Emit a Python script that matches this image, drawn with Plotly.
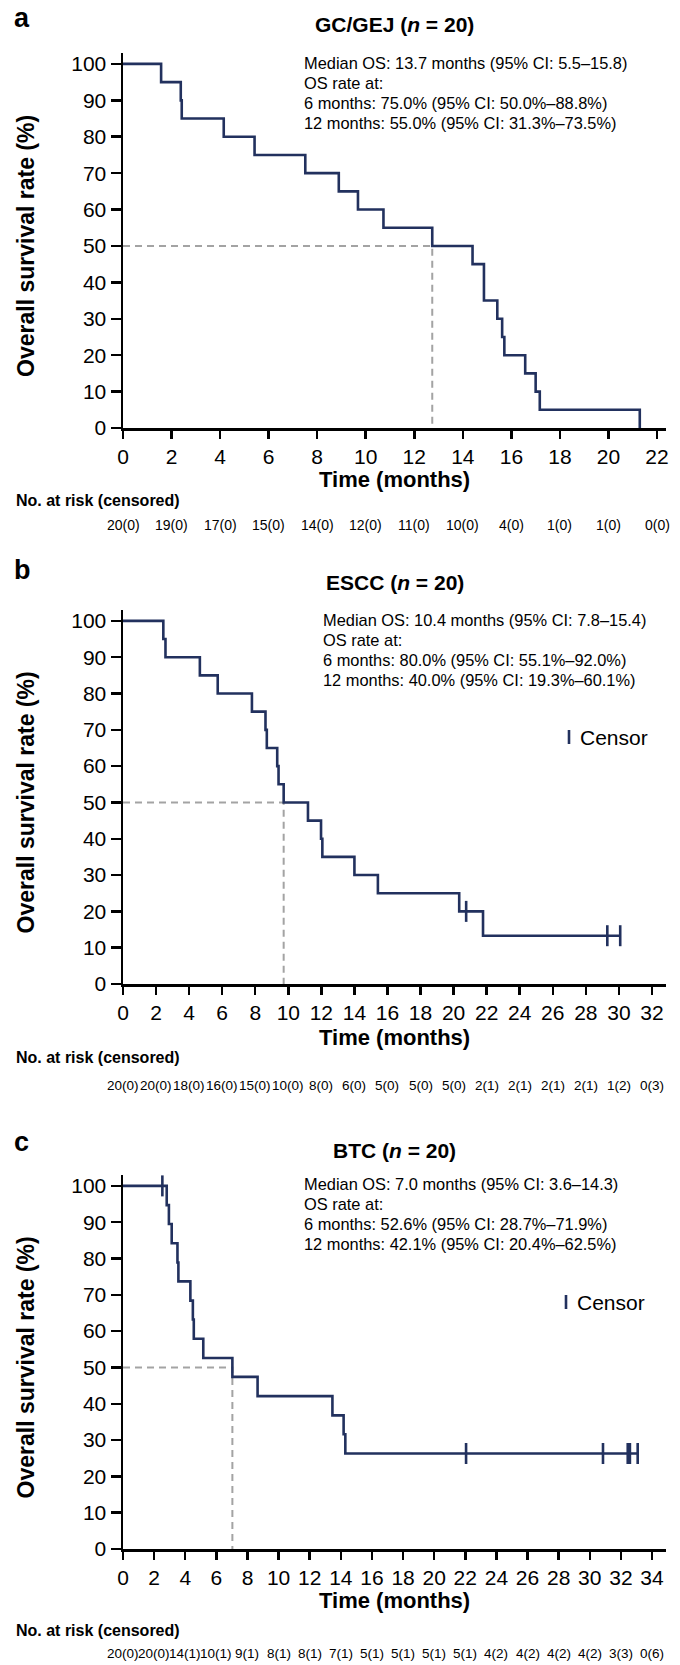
import plotly.graph_objects as go

# ---------------- data ----------------
# GC/GEJ
gc_time = [0, 1.57, 2.38, 2.42, 4.15, 5.42, 7.51, 8.89, 9.68, 10.73, 12.74, 14.40, 14.87, 15.42, 15.62, 15.71, 16.57, 17.00, 17.17, 21.29]
gc_surv = [100, 95, 90, 85, 80, 75, 70, 65, 60, 55, 50, 45, 35, 30, 25, 20, 15, 10, 5, 0]
gc_cens_time = []
gc_cens_surv = []
gc_median = 12.74
gc_ticks = [0, 2, 4, 6, 8, 10, 12, 14, 16, 18, 20, 22]
gc_at_risk = [20, 19, 17, 15, 14, 12, 11, 10, 4, 1, 1, 0]
gc_censored = [0, 0, 0, 0, 0, 0, 0, 0, 0, 0, 0, 0]
gc_title = "GC/GEJ (<i>n</i> = 20)"
gc_text = ["Median OS: 13.7 months (95% CI: 5.5–15.8)", "OS rate at:",
           "6 months: 75.0% (95% CI: 50.0%–88.8%)", "12 months: 55.0% (95% CI: 31.3%–73.5%)"]

# ESCC
escc_time = [0, 2.44, 2.57, 4.65, 5.73, 7.80, 8.62, 8.70, 9.33, 9.41, 9.72, 11.19, 11.98, 12.06, 14.00, 15.42, 20.34, 21.78, 30.08]
escc_surv = [100, 95, 90, 85, 80, 75, 70, 65, 60, 55, 50, 45, 40, 35, 30, 25, 20, 13.3, 13.3]
escc_cens_time = [20.76, 29.30, 30.08]
escc_cens_surv = [20, 13.3, 13.3]
escc_median = 9.72
escc_ticks = list(range(0, 33, 2))
escc_at_risk = [20, 20, 18, 16, 15, 10, 8, 6, 5, 5, 5, 2, 2, 2, 2, 1, 0]
escc_censored = [0, 0, 0, 0, 0, 0, 0, 0, 0, 0, 0, 1, 1, 1, 1, 2, 3]
escc_title = "ESCC (<i>n</i> = 20)"
escc_text = ["Median OS: 10.4 months (95% CI: 7.8–15.4)", "OS rate at:",
             "6 months: 80.0% (95% CI: 55.1%–92.0%)", "12 months: 40.0% (95% CI: 19.3%–60.1%)"]

# BTC
btc_time = [0, 2.81, 2.95, 3.13, 3.50, 3.56, 4.33, 4.49, 4.55, 5.16, 7.03, 8.65, 13.46, 14.18, 14.29, 33.08]
btc_surv = [100, 94.7, 89.5, 84.2, 78.9, 73.7, 68.4, 63.2, 57.9, 52.6, 47.4, 42.1, 36.8, 31.6, 26.3, 26.3]
btc_cens_time = [2.53, 22.05, 30.85, 32.44, 32.58, 33.08]
btc_cens_surv = [100, 26.3, 26.3, 26.3, 26.3, 26.3]
btc_median = 7.03
btc_ticks = list(range(0, 35, 2))
btc_at_risk = [20, 20, 14, 10, 9, 8, 8, 7, 5, 5, 5, 5, 4, 4, 4, 4, 3, 0]
btc_censored = [0, 0, 1, 1, 1, 1, 1, 1, 1, 1, 1, 1, 2, 2, 2, 2, 3, 6]
btc_title = "BTC (<i>n</i> = 20)"
btc_text = ["Median OS: 7.0 months (95% CI: 3.6–14.3)", "OS rate at:",
            "6 months: 52.6% (95% CI: 28.7%–71.9%)", "12 months: 42.1% (95% CI: 20.4%–62.5%)"]

y_ticks = [0, 10, 20, 30, 40, 50, 60, 70, 80, 90, 100]

# ---------------- layout helpers ----------------
W, H = 680, 1665
FONT = "Liberation Sans, Arial, Helvetica, sans-serif"
NAVY = "#22315e"
GREY = "#a3a3a3"


def px(p):
    return p / W


def py(p):
    return 1 - p / H


panels = [
    dict(letter="a", time=gc_time, surv=gc_surv, ct=gc_cens_time, cs=gc_cens_surv, med=gc_median,
         ticks=gc_ticks, risk=gc_at_risk, cens=gc_censored, title=gc_title, text=gc_text,
         xmax=22.37, top=53, bottom=428, letter_y=18, title_y=25, text_x=302, text_y=63,
         xlab_y=479, risk_lab_y=500, risk_y=525, legend=None, risk_size=14),
    dict(letter="b", time=escc_time, surv=escc_surv, ct=escc_cens_time, cs=escc_cens_surv, med=escc_median,
         ticks=escc_ticks, risk=escc_at_risk, cens=escc_censored, title=escc_title, text=escc_text,
         xmax=32.85, top=610, bottom=984, letter_y=570, title_y=582, text_x=321, text_y=620,
         xlab_y=1037, risk_lab_y=1057, risk_y=1085, legend=(569, 737), risk_size=13.5),
    dict(letter="c", time=btc_time, surv=btc_surv, ct=btc_cens_time, cs=btc_cens_surv, med=btc_median,
         ticks=btc_ticks, risk=btc_at_risk, cens=btc_censored, title=btc_title, text=btc_text,
         xmax=34.9, top=1175, bottom=1549, letter_y=1142, title_y=1150, text_x=302, text_y=1184,
         xlab_y=1600, risk_lab_y=1630, risk_y=1653, legend=(566, 1302), risk_size=13.5),
]

X0, X1 = 123, 666

fig = go.Figure()
annotations = []
shapes = []
layout_axes = {}

for i, p in enumerate(panels):
    n = "" if i == 0 else str(i + 1)
    xa, ya = "x" + n, "y" + n

    # median dashed guide
    fig.add_trace(go.Scatter(x=[0, p["med"], p["med"]], y=[50, 50, 0], mode="lines",
                             line=dict(color=GREY, width=2, dash="7px,5px"),
                             xaxis=xa, yaxis=ya, showlegend=False, hoverinfo="skip"))
    # KM curve
    fig.add_trace(go.Scatter(x=p["time"], y=p["surv"], mode="lines", line_shape="hv",
                             line=dict(color=NAVY, width=2.6),
                             xaxis=xa, yaxis=ya, showlegend=False))
    # censor marks
    if p["ct"]:
        fig.add_trace(go.Scatter(x=p["ct"], y=p["cs"], mode="markers",
                                 marker=dict(symbol="line-ns", size=15,
                                             line=dict(color=NAVY, width=2.6)),
                                 xaxis=xa, yaxis=ya, showlegend=False, cliponaxis=False))

    axis_common = dict(showgrid=False, zeroline=False, showline=True, linecolor="black",
                       linewidth=2.5, ticks="outside", tickcolor="black", tickwidth=2.5,
                       automargin=False,
                       tickfont=dict(family=FONT, size=21, color="black"))
    layout_axes["xaxis" + n] = dict(axis_common, domain=[px(X0), px(X1)], range=[0, p["xmax"]],
                                    tickvals=p["ticks"], ticklen=8, anchor=ya)
    layout_axes["yaxis" + n] = dict(axis_common, domain=[py(p["bottom"]), py(p["top"])],
                                    range=[0, 103], tickvals=y_ticks, ticklen=10, anchor=xa)

    # panel letter
    annotations.append(dict(text="<b>%s</b>" % p["letter"], x=px(12), y=py(p["letter_y"]),
                            xref="paper", yref="paper", xanchor="left", yanchor="middle",
                            showarrow=False, font=dict(family=FONT, size=27, color="black")))
    # title
    annotations.append(dict(text="<b>%s</b>" % p["title"], x=px((X0 + X1) / 2), y=py(p["title_y"]),
                            xref="paper", yref="paper", xanchor="center", yanchor="middle",
                            showarrow=False, font=dict(family=FONT, size=21, color="black")))
    # stats text
    for k, line in enumerate(p["text"]):
        annotations.append(dict(text=line, x=px(p["text_x"]), y=py(p["text_y"] + 20 * k),
                                xref="paper", yref="paper", xanchor="left", yanchor="middle",
                                showarrow=False, font=dict(family=FONT, size=16.4, color="black")))
    # axis titles
    annotations.append(dict(text="<b>Time (months)</b>", x=px((X0 + X1) / 2), y=py(p["xlab_y"]),
                            xref="paper", yref="paper", xanchor="center", yanchor="middle",
                            showarrow=False, font=dict(family=FONT, size=22, color="black")))
    ymid = p["bottom"] - (p["bottom"] - p["top"]) * 50 / 103
    annotations.append(dict(text="<b>Overall survival rate (%)</b>", x=px(26), y=py(ymid),
                            xref="paper", yref="paper", xanchor="center", yanchor="middle",
                            textangle=-90, showarrow=False,
                            font=dict(family=FONT, size=23, color="black")))
    # risk table
    annotations.append(dict(text="<b>No. at risk (censored)</b>", x=px(14), y=py(p["risk_lab_y"]),
                            xref="paper", yref="paper", xanchor="left", yanchor="middle",
                            showarrow=False, font=dict(family=FONT, size=16, color="black")))
    for t, r, c in zip(p["ticks"], p["risk"], p["cens"]):
        annotations.append(dict(text="%d(%d)" % (r, c), x=t, y=py(p["risk_y"]),
                                xref=xa, yref="paper", xanchor="center", yanchor="middle",
                                showarrow=False,
                                font=dict(family=FONT, size=p["risk_size"], color="black")))
    # censor legend
    if p["legend"]:
        lx, ly = p["legend"]
        shapes.append(dict(type="line", xref="paper", yref="paper", x0=px(lx), x1=px(lx),
                           y0=py(ly - 7), y1=py(ly + 7), line=dict(color=NAVY, width=2.6)))
        annotations.append(dict(text="Censor", x=px(lx + 9), y=py(ly), xref="paper", yref="paper",
                                xanchor="left", yanchor="middle", showarrow=False,
                                font=dict(family=FONT, size=21, color="black")))

fig.update_layout(width=W, height=H, margin=dict(l=0, r=0, t=0, b=0, autoexpand=False),
                  paper_bgcolor="white", plot_bgcolor="white", hovermode=False,
                  annotations=annotations, shapes=shapes, **layout_axes)

fig.write_html("out.html", config={"displayModeBar": False, "staticPlot": True},
               post_script="document.body.style.margin='0';document.body.style.overflow='hidden';")
